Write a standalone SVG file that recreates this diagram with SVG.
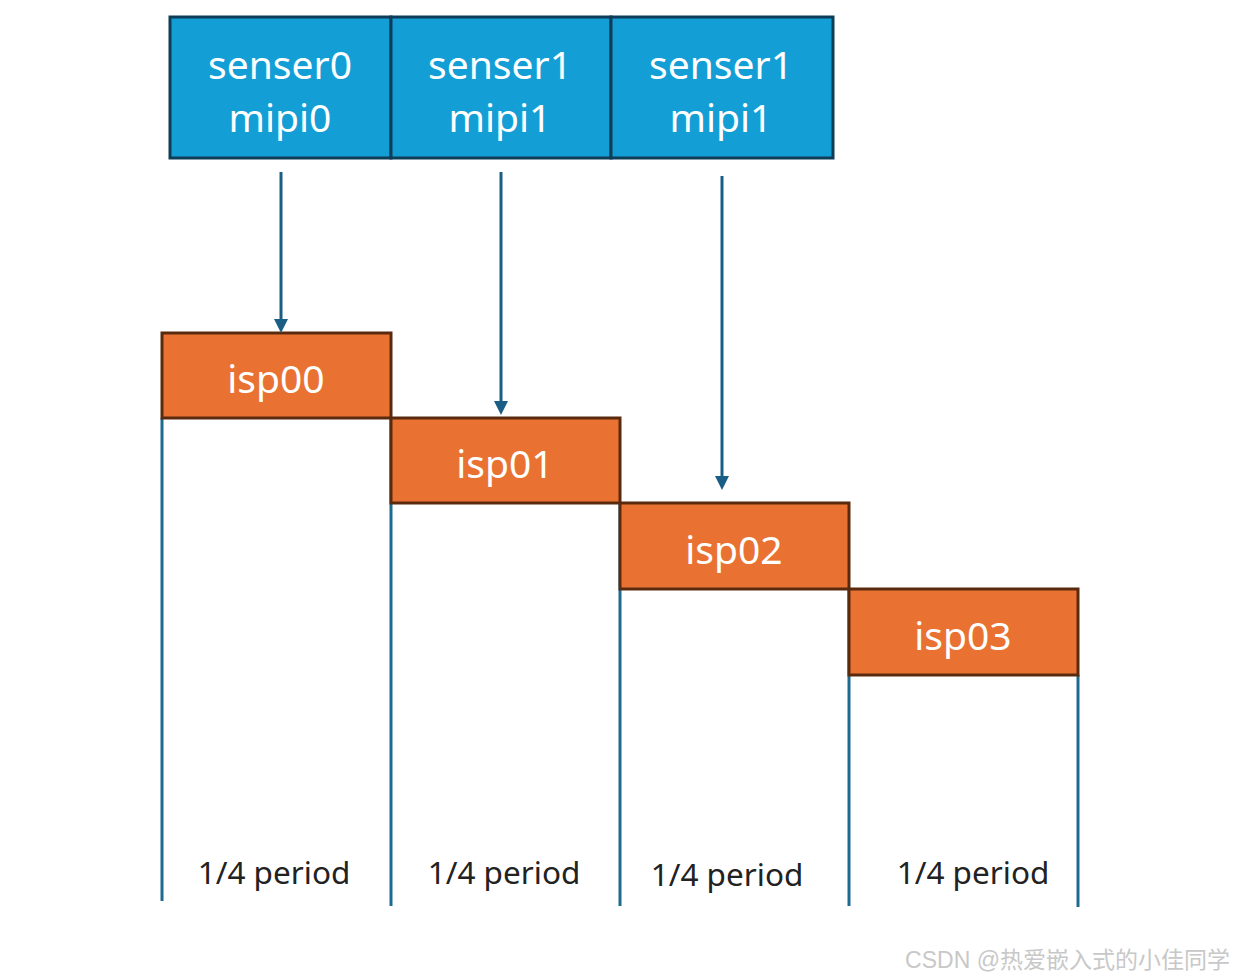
<svg xmlns="http://www.w3.org/2000/svg" width="1235" height="979" viewBox="0 0 1235 979">
<style>
.src{fill:#139fd6;stroke:#0e3d58;stroke-width:3}
.isp{fill:#e97233;stroke:#5a2a0f;stroke-width:3}
.t{font-family:"Noto Sans","Liberation Sans",sans-serif;fill:#fff;text-anchor:middle}
.big{font-size:39px}
.per{font-family:"Noto Sans","Liberation Sans",sans-serif;font-size:31.5px;fill:#222;text-anchor:middle}
.vl{stroke:#1f6a90;stroke-width:3;fill:none}
.ar{stroke:#1b5e85;stroke-width:3;fill:none}
</style>
<rect width="1235" height="979" fill="#fff"/>
<g id="vlines">
<line class="vl" x1="162" y1="418" x2="162" y2="901"/>
<line class="vl" x1="391" y1="418" x2="391" y2="906"/>
<line class="vl" x1="620" y1="503" x2="620" y2="906"/>
<line class="vl" x1="849" y1="589" x2="849" y2="906"/>
<line class="vl" x1="1078" y1="675" x2="1078" y2="907"/>
</g>
<g id="sensor0"><rect class="src" x="170" y="17" width="221" height="141"/><text class="t big" x="280" y="79">senser0</text><text class="t big" x="280" y="132">mipi0</text></g>
<g id="sensor1a"><rect class="src" x="391" y="17" width="220" height="141"/><text class="t big" x="500" y="79">senser1</text><text class="t big" x="500" y="132">mipi1</text></g>
<g id="sensor1b"><rect class="src" x="611" y="17" width="222" height="141"/><text class="t big" x="721" y="79">senser1</text><text class="t big" x="721" y="132">mipi1</text></g>
<g id="isp00"><rect class="isp" x="162" y="333" width="229" height="85"/><text class="t big" x="276" y="393">isp00</text></g>
<g id="isp01"><rect class="isp" x="391" y="418" width="229" height="85"/><text class="t big" x="505" y="478">isp01</text></g>
<g id="isp02"><rect class="isp" x="620" y="503" width="229" height="86"/><text class="t big" x="734" y="564">isp02</text></g>
<g id="isp03"><rect class="isp" x="849" y="589" width="229" height="86"/><text class="t big" x="963" y="650">isp03</text></g>
<g id="connectors">
<path class="ar" d="M281,172 V322"/><path d="M274,319 L288,319 L281,333 Z" fill="#1b5e85"/>
<path class="ar" d="M501,172 V404"/><path d="M494,401 L508,401 L501,415 Z" fill="#1b5e85"/>
<path class="ar" d="M722,176 V479"/><path d="M715,476 L729,476 L722,490 Z" fill="#1b5e85"/>
</g>
<g id="labels">
<text class="per" x="274" y="884">1/4 period</text>
<text class="per" x="504" y="884">1/4 period</text>
<text class="per" x="727" y="886">1/4 period</text>
<text class="per" x="973" y="884">1/4 period</text>
</g>
<text x="1230" y="968" font-family="'Liberation Sans','Noto Sans CJK SC',sans-serif" font-size="23" fill="#c8c8c8" text-anchor="end">CSDN @热爱嵌入式的小佳同学</text>
</svg>
